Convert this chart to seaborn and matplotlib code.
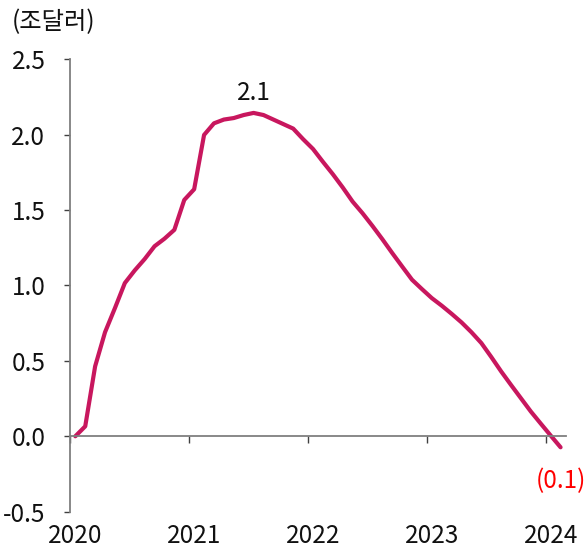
import numpy as np
import pandas as pd
import matplotlib
matplotlib.use("Agg")
import matplotlib.pyplot as plt
import seaborn as sns

# ---- data (monthly, Jan 2020 - Feb 2024), 조달러 ----
months = [d.strftime("%Y-%m") for d in pd.date_range("2020-01-01", periods=50, freq="MS")]
values = [0.0, 0.066, 0.464, 0.69, 0.85, 1.016, 1.10, 1.175, 1.26, 1.31,
          1.369, 1.567, 1.638, 1.998, 2.075, 2.10, 2.11, 2.13, 2.144, 2.13,
          2.10, 2.07, 2.04, 1.97, 1.905, 1.82, 1.738, 1.65, 1.556, 1.479,
          1.395, 1.307, 1.215, 1.126, 1.038, 0.976, 0.916, 0.866, 0.812, 0.755,
          0.69, 0.618, 0.526, 0.43, 0.34, 0.252, 0.164, 0.084, 0.005, -0.073]
year_labels = ["2020", "2021", "2022", "2023", "2024"]
y_ticks = [-0.5, 0.0, 0.5, 1.0, 1.5, 2.0, 2.5]
y_tick_labels = ["-0.5", "0.0", "0.5", "1.0", "1.5", "2.0", "2.5"]
unit_label = "(조달러)"
peak_label = "2.1"
last_label = "(0.1)"

df = pd.DataFrame({"month": months, "value": values})
df["pos"] = np.arange(len(df))

sns.set_theme(style="white")
plt.rcParams["font.family"] = ["Noto Sans CJK KR", "DejaVu Sans"]
plt.rcParams["font.weight"] = "light"

FS = 17.5
fig = plt.figure(figsize=(5.85, 5.53), dpi=100)
ax = fig.add_axes([0.1203, 0.0747, 0.8464, 0.8182])

sns.lineplot(data=df, x="pos", y="value", color="#C8175E", linewidth=3, ax=ax)

n = len(df)
ax.set_xlim(-0.5, n - 0.5)
ax.set_ylim(-0.5, 2.5)
ax.set_xlabel("")
ax.set_ylabel("")

axis_gray = "#7F7F7F"
for s in ["top", "right"]:
    ax.spines[s].set_visible(False)
ax.spines["left"].set_color(axis_gray)
ax.spines["left"].set_linewidth(1.3)
ax.spines["bottom"].set_position(("data", 0))
ax.spines["bottom"].set_color(axis_gray)
ax.spines["bottom"].set_linewidth(1.3)

year_pos = [months.index(y + "-01") for y in year_labels]
ax.set_xticks([p - 0.5 for p in year_pos])
ax.set_xticklabels([])
ax.tick_params(axis="x", direction="out", length=5, width=1, color="#404040", bottom=True)

ax.set_yticks(y_ticks)
ax.set_yticklabels(y_tick_labels)
ax.tick_params(axis="y", direction="out", length=4, width=1, color="#404040",
               left=True, labelsize=FS, pad=14, labelcolor="#111111")

sec = ax.secondary_xaxis("bottom")
sec.set_xticks(year_pos)
sec.set_xticklabels(year_labels)
sec.tick_params(length=0, labelsize=FS, pad=8, labelcolor="#111111")
sec.spines["bottom"].set_visible(False)

peak_i = int(np.argmax(values))
ax.annotate(peak_label, xy=(df["pos"][peak_i], values[peak_i]), xytext=(0, 14),
            textcoords="offset points", ha="center", va="center",
            fontsize=FS, color="#111111")
ax.annotate(last_label, xy=(df["pos"].iloc[-1], values[-1]), xytext=(0, -24),
            textcoords="offset points", ha="center", va="center",
            fontsize=FS, color="#FF0000")

fig.text(12 / 585, 1 - 22 / 553, unit_label, ha="left", va="center",
         fontsize=FS, color="#111111")

fig.savefig("out.png", dpi=100)
